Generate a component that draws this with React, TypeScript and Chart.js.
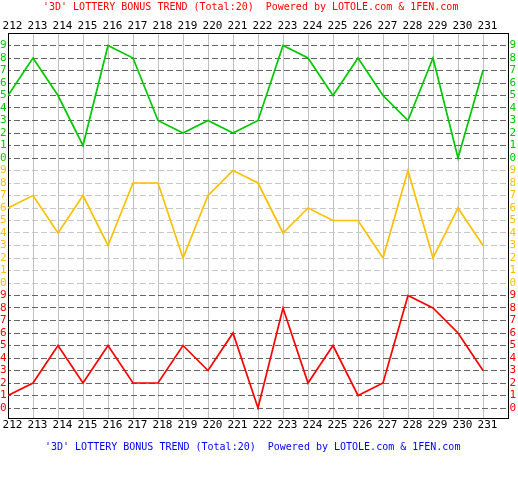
import React, { useEffect, useRef } from 'react';
import { Chart, registerables } from 'chart.js';

Chart.register(...registerables);

// ---- data ----
const ISSUES = [212, 213, 214, 215, 216, 217, 218, 219, 220, 221, 222, 223, 224, 225, 226, 227, 228, 229, 230, 231];
const GREEN_DIGITS = [5, 8, 5, 1, 9, 8, 3, 2, 3, 2, 3, 9, 8, 5, 8, 5, 3, 8, 0, 7];
const ORANGE_DIGITS = [6, 7, 4, 7, 3, 8, 8, 2, 7, 9, 8, 4, 6, 5, 5, 2, 9, 2, 6, 3];
const RED_DIGITS = [1, 2, 5, 2, 5, 2, 2, 5, 3, 6, 0, 8, 2, 5, 1, 2, 9, 8, 6, 3];
const DIGIT_LABELS = ['0', '1', '2', '3', '4', '5', '6', '7', '8', '9'];
const TITLE_TEXT = "'3D' LOTTERY BONUS TREND (Total:20)  Powered by LOTOLE.com & 1FEN.com";
const FOOTER_TEXT = "'3D' LOTTERY BONUS TREND (Total:20)  Powered by LOTOLE.com & 1FEN.com";

// ---- styles ----
const GREEN = '#00c800';
const ORANGE = '#ffc000';
const RED = '#ff0000';
const DARK_DASH = '#666666';
const LIGHT_DASH = '#c8c8c8';
const VGRID = '#c0c0c0';
const FONT_FAMILY = "'DejaVu Sans Mono', monospace";
const BAND = 10;

const bandColor = (v: number) => (v >= 2 * BAND ? GREEN : v >= BAND ? ORANGE : RED);

const toPoints = (digits: number[], offset: number) =>
  digits.map((d, i) => ({ x: ISSUES[i], y: d + offset }));

const textPlugin = {
  id: 'titleTexts',
  afterDraw(chart: any) {
    const ctx = chart.ctx;
    ctx.save();
    ctx.font = `10px ${FONT_FAMILY}`;
    ctx.textAlign = 'left';
    ctx.textBaseline = 'middle';
    ctx.fillStyle = '#ff0000';
    ctx.fillText(TITLE_TEXT, 43, 7);
    ctx.fillStyle = '#0000ff';
    ctx.fillText(FOOTER_TEXT, 45, 447);
    ctx.restore();
  },
};

export default function App() {
  const ref = useRef<HTMLCanvasElement | null>(null);

  useEffect(() => {
    if (!ref.current) return;
    const xTicks = (scale: any) => {
      scale.ticks = ISSUES.map((v) => ({ value: v }));
    };
    const yTicks = (scale: any) => {
      const t: any[] = [];
      for (let b = 0; b < 3; b++) {
        DIGIT_LABELS.forEach((_, d) => t.push({ value: b * BAND + d }));
      }
      scale.ticks = t;
    };
    const font = { family: FONT_FAMILY, size: 11 };

    const chart = new Chart(ref.current, {
      type: 'line',
      data: {
        datasets: [
          { data: toPoints(GREEN_DIGITS, 2 * BAND), borderColor: GREEN, borderWidth: 1.7, pointRadius: 0, tension: 0, fill: false },
          { data: toPoints(ORANGE_DIGITS, BAND), borderColor: ORANGE, borderWidth: 1.7, pointRadius: 0, tension: 0, fill: false },
          { data: toPoints(RED_DIGITS, 0), borderColor: RED, borderWidth: 1.7, pointRadius: 0, tension: 0, fill: false },
        ],
      },
      options: {
        animation: false,
        responsive: false,
        devicePixelRatio: 1,
        layout: { padding: 0 },
        plugins: { legend: { display: false }, tooltip: { enabled: false }, title: { display: false } },
        scales: {
          x: {
            type: 'linear',
            position: 'bottom',
            min: 212,
            max: 232,
            afterBuildTicks: xTicks,
            afterFit: (s: any) => { s.height = 82; s.paddingLeft = 0; s.paddingRight = 0; },
            grid: { color: VGRID, lineWidth: 1, drawTicks: false, tickLength: 0 },
            border: { color: '#000', width: 1 },
            ticks: { autoSkip: false, maxRotation: 0, padding: 1, labelOffset: 4.5, color: '#000', font, callback: (v: any) => String(v) },
          },
          x2: {
            type: 'linear',
            position: 'top',
            min: 212,
            max: 232,
            afterBuildTicks: xTicks,
            afterFit: (s: any) => { s.height = 33; s.paddingLeft = 0; s.paddingRight = 0; },
            grid: { display: false, drawTicks: false, tickLength: 0 },
            border: { color: '#000', width: 1 },
            ticks: { autoSkip: false, maxRotation: 0, padding: 0, labelOffset: 4.5, color: '#000', font, callback: (v: any) => String(v) },
          },
          y: {
            type: 'linear',
            position: 'left',
            min: -0.8,
            max: 30,
            afterBuildTicks: yTicks,
            afterFit: (s: any) => { s.width = 8; s.paddingTop = 0; s.paddingBottom = 0; },
            grid: {
              color: (c: any) => (c.tick && c.tick.value >= BAND && c.tick.value < 2 * BAND ? LIGHT_DASH : DARK_DASH),
              lineWidth: 1,
              drawTicks: false,
              tickLength: 0,
            },
            border: { color: '#000', width: 1, dash: [6, 3], dashOffset: 4 },
            ticks: {
              autoSkip: false,
              padding: 1.5,
              font,
              color: (c: any) => bandColor(c.tick ? c.tick.value : 0),
              callback: (v: any) => DIGIT_LABELS[Number(v) % BAND],
            },
          },
          y2: {
            type: 'linear',
            position: 'right',
            min: -0.8,
            max: 30,
            afterBuildTicks: yTicks,
            afterFit: (s: any) => { s.width = 10; s.paddingTop = 0; s.paddingBottom = 0; },
            grid: { display: false, drawTicks: false, tickLength: 0 },
            border: { color: '#000', width: 1 },
            ticks: {
              autoSkip: false,
              padding: 1.5,
              font,
              color: (c: any) => bandColor(c.tick ? c.tick.value : 0),
              callback: (v: any) => DIGIT_LABELS[Number(v) % BAND],
            },
          },
        },
      } as any,
      plugins: [textPlugin],
    });
    return () => chart.destroy();
  }, []);

  return (
    <div style={{ position: 'absolute', left: 0, top: 0, width: 518, height: 500, background: '#fff' }}>
      <canvas ref={ref} width={518} height={500} style={{ display: 'block', width: 518, height: 500 }} />
    </div>
  );
}
